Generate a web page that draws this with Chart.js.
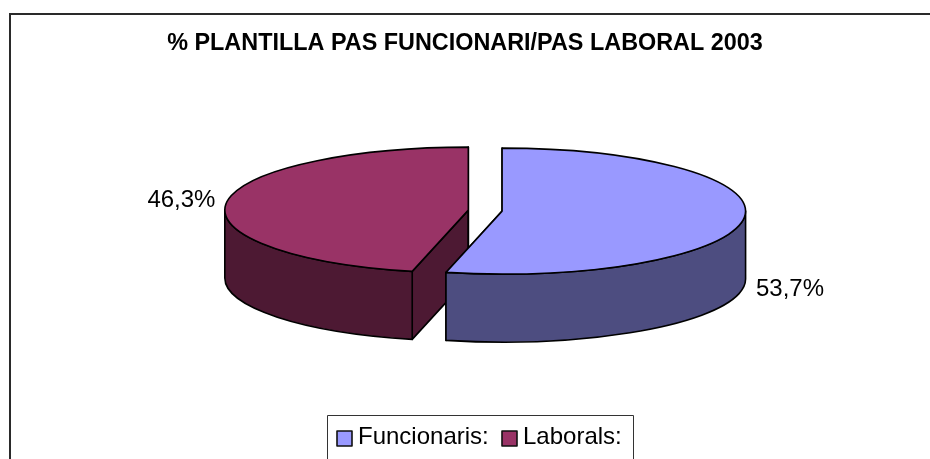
<!DOCTYPE html>
<html>
<head>
<meta charset="utf-8">
<style>html,body{margin:0;padding:0;background:#fff}canvas{display:block}</style>
<script src="https://cdn.jsdelivr.net/npm/chart.js@4"></script>
</head>
<body>
<canvas id="c" width="930" height="459"></canvas>
<script>
const categories = ["Funcionaris:", "Laborals:"];
const values = [53.7, 46.3];
const valueLabels = ["53,7%", "46,3%"];
const topColors = ["#9999FF", "#993366"];
const sideColors = ["#4D4D80", "#4D1933"];
const titleText = "% PLANTILLA PAS FUNCIONARI/PAS LABORAL 2003";

const FONT = '"Liberation Sans", Arial, sans-serif';
const pieCenter = {x: 485.2, y: 210.6};
const squash = 63 / 243.5;
const depth = 68;
const labelOffsets = [{x: 12, y: 71, align: "left"}, {x: -11, y: -2, align: "right"}];

function geom(chart, el) {
  const mid = (el.startAngle + el.endAngle) / 2;
  const off = (el.options.offset || 0) / 4;
  const r = el.outerRadius + off;
  return {
    cx: pieCenter.x + Math.cos(mid) * off,
    cy: pieCenter.y + Math.sin(mid) * off * squash,
    rx: r,
    ry: r * squash,
    a0: el.startAngle,
    a1: el.endAngle,
    mid
  };
}

const pie3d = {
  id: "pie3d",
  beforeDraw(chart) {
    const ctx = chart.ctx;
    ctx.save();
    ctx.fillStyle = "#fff";
    ctx.fillRect(0, 0, chart.width, chart.height);
    ctx.strokeStyle = "#2a2a2a";
    ctx.lineWidth = 2;
    ctx.beginPath();
    ctx.moveTo(10, chart.height);
    ctx.lineTo(10, 14);
    ctx.lineTo(chart.width, 14);
    ctx.stroke();
    ctx.restore();
  },
  beforeDatasetDraw() { return false; },
  afterDatasetsDraw(chart) {
    const ctx = chart.ctx;
    const arcs = chart.getDatasetMeta(0).data;
    ctx.save();
    ctx.lineWidth = 1.6;
    ctx.strokeStyle = "#000";
    ctx.lineJoin = "round";
    for (let i = arcs.length - 1; i >= 0; i--) {
      const el = arcs[i];
      const g = geom(chart, el);
      const px = a => g.cx + Math.cos(a) * g.rx;
      const py = a => g.cy + Math.sin(a) * g.ry;
      // cut faces
      ctx.fillStyle = sideColors[i];
      [g.a0, g.a1].forEach(a => {
        ctx.beginPath();
        ctx.moveTo(g.cx, g.cy);
        ctx.lineTo(px(a), py(a));
        ctx.lineTo(px(a), py(a) + depth);
        ctx.lineTo(g.cx, g.cy + depth);
        ctx.closePath();
        ctx.fill();
        ctx.stroke();
      });
      // outer wall (front half only)
      const w0 = Math.max(g.a0, 0), w1 = Math.min(g.a1, Math.PI);
      if (w1 > w0) {
        ctx.beginPath();
        ctx.ellipse(g.cx, g.cy, g.rx, g.ry, 0, w0, w1);
        ctx.ellipse(g.cx, g.cy + depth, g.rx, g.ry, 0, w1, w0, true);
        ctx.closePath();
        ctx.fill();
        ctx.stroke();
      }
      // top face: the library's arc geometry, flattened
      ctx.fillStyle = el.options.backgroundColor;
      ctx.beginPath();
      ctx.moveTo(g.cx, g.cy);
      ctx.ellipse(g.cx, g.cy, g.rx, g.ry, 0, g.a0, g.a1);
      ctx.closePath();
      ctx.fill();
      ctx.stroke();
    }
    // value labels
    ctx.fillStyle = "#000";
    ctx.font = "24px " + FONT;
    ctx.textBaseline = "middle";
    arcs.forEach((el, i) => {
      const g = geom(chart, el);
      const o = labelOffsets[i];
      ctx.textAlign = o.align;
      ctx.fillText(valueLabels[i], g.cx + Math.cos(g.mid) * g.rx + o.x, g.cy + Math.sin(g.mid) * g.ry + o.y);
    });
    // legend
    ctx.strokeStyle = "#333";
    ctx.lineWidth = 1;
    ctx.beginPath();
    ctx.moveTo(327.5, chart.height);
    ctx.lineTo(327.5, 415.5);
    ctx.lineTo(633.5, 415.5);
    ctx.lineTo(633.5, chart.height);
    ctx.stroke();
    const swatchX = [337, 502], textX = [358, 523];
    ctx.textAlign = "left";
    ctx.textBaseline = "alphabetic";
    ctx.lineWidth = 1.6;
    ctx.strokeStyle = "#111";
    categories.forEach((name, i) => {
      ctx.fillStyle = topColors[i];
      ctx.fillRect(swatchX[i], 431, 15, 15);
      ctx.strokeRect(swatchX[i], 431, 15, 15);
      ctx.fillStyle = "#000";
      ctx.fillText(name, textX[i], 443.5);
    });
    ctx.restore();
  }
};

new Chart(document.getElementById("c"), {
  type: "pie",
  plugins: [pie3d],
  data: {
    labels: categories,
    datasets: [{
      data: values,
      backgroundColor: topColors,
      borderWidth: 0,
      offset: 68,
      radius: 226.5,
      clip: false
    }]
  },
  options: {
    responsive: false,
    animation: false,
    events: [],
    layout: {padding: {top: 20}},
    plugins: {
      legend: {display: false},
      tooltip: {enabled: false},
      title: {
        display: true,
        text: titleText,
        color: "#000",
        font: {family: FONT, size: 23.4, weight: "bold", lineHeight: 1.2},
        padding: {top: 10, bottom: 10}
      }
    }
  }
});
</script>
</body>
</html>
